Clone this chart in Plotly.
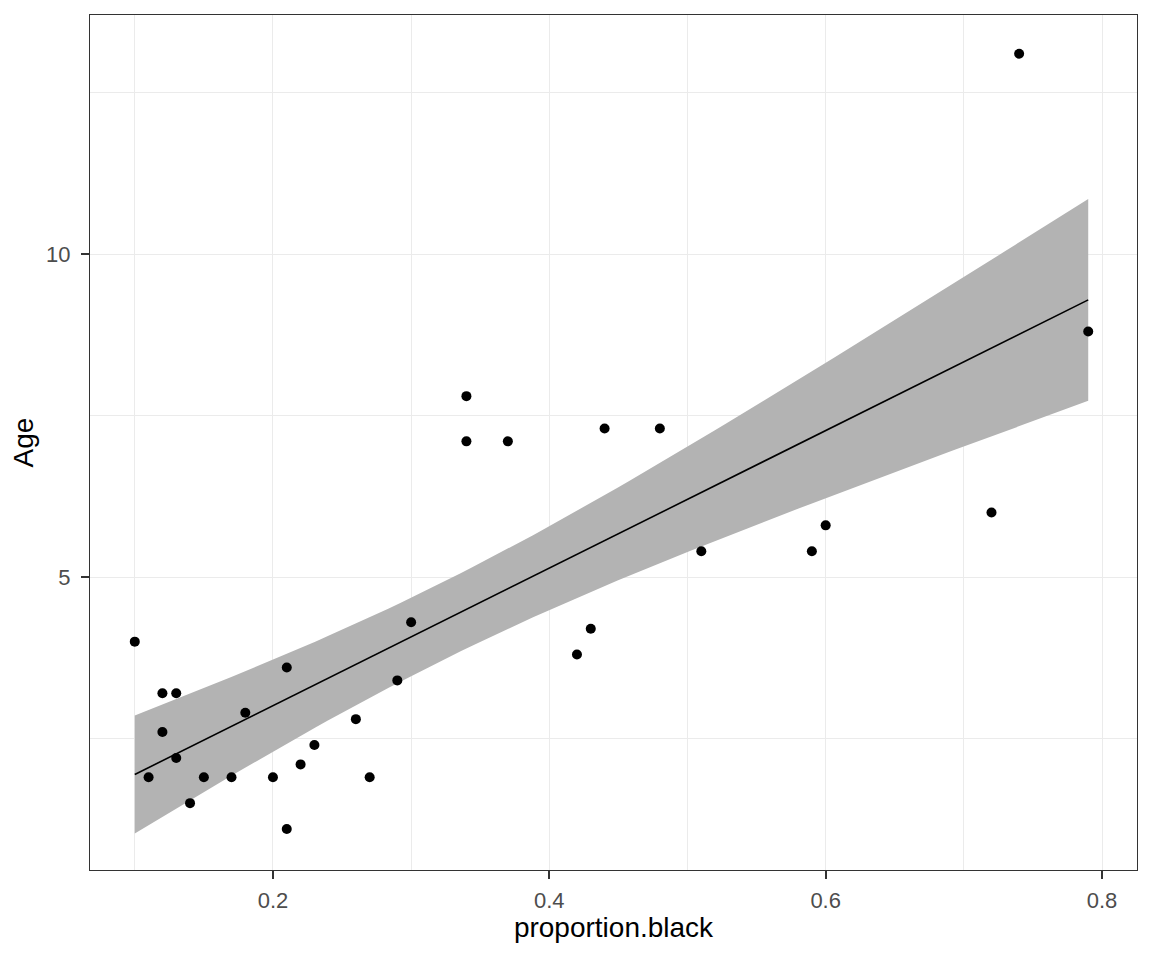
import numpy as np
import plotly.graph_objects as go

# values
proportion_black = [0.10, 0.11, 0.12, 0.12, 0.13, 0.13, 0.14, 0.15, 0.17, 0.18,
                    0.20, 0.21, 0.21, 0.22, 0.23, 0.26, 0.27, 0.29, 0.30, 0.34,
                    0.34, 0.37, 0.42, 0.43, 0.44, 0.48, 0.51, 0.59, 0.60, 0.72,
                    0.74, 0.79]
age = [4.0, 1.9, 3.2, 2.6, 3.2, 2.2, 1.5, 1.9, 1.9, 2.9,
       1.9, 3.6, 1.1, 2.1, 2.4, 2.8, 1.9, 3.4, 4.3, 7.8,
       7.1, 7.1, 3.8, 4.2, 7.3, 7.3, 5.4, 5.4, 5.8, 6.0,
       13.1, 8.8]
x_ticks = [0.2, 0.4, 0.6, 0.8]
y_ticks = [5, 10]

# linear fit + 95% confidence band, like geom_smooth(method="lm")
x = np.array(proportion_black)
y = np.array(age)
n = len(x)
slope, intercept = np.polyfit(x, y, 1)
resid = y - (intercept + slope * x)
s = np.sqrt(np.sum(resid ** 2) / (n - 2))
t_crit = 2.0423  # t(0.975, df=30)
xs = np.linspace(x.min(), x.max(), 80)
fit = intercept + slope * xs
se = s * np.sqrt(1 / n + (xs - x.mean()) ** 2 / np.sum((x - x.mean()) ** 2))
lower = fit - t_crit * se
upper = fit + t_crit * se

fig = go.Figure()
fig.add_trace(go.Scatter(x=xs, y=lower, mode="lines", line=dict(width=0),
                         hoverinfo="skip", showlegend=False))
fig.add_trace(go.Scatter(x=xs, y=upper, mode="lines", line=dict(width=0),
                         fill="tonexty", fillcolor="#B3B3B3",
                         hoverinfo="skip", showlegend=False))
fig.add_trace(go.Scatter(x=x, y=y, mode="markers",
                         marker=dict(color="black", size=10), showlegend=False))
fig.add_trace(go.Scatter(x=xs, y=fit, mode="lines",
                         line=dict(color="black", width=1.6), showlegend=False))

font = "Liberation Sans, Arial"
axis_style = dict(showline=True, mirror=True, linecolor="#333333", linewidth=1.2,
                  ticks="outside", ticklen=8, tickwidth=1.5, tickcolor="#333333",
                  gridcolor="#EBEBEB", gridwidth=1.2, zeroline=False,
                  tickfont=dict(family=font, size=22, color="#4D4D4D"),
                  minor=dict(showgrid=True, gridcolor="#EBEBEB", gridwidth=0.7, ticks=""))

fig.update_xaxes(range=[0.0676, 0.8253], tickvals=x_ticks,
                 ticktext=[f"{v:.1f}" for v in x_ticks], ticklabelstandoff=2,
                 title=dict(text="proportion.black", standoff=4,
                            font=dict(family=font, size=28, color="black")),
                 **axis_style)
fig.update_xaxes(minor_tickvals=[0.1, 0.3, 0.5, 0.7])
fig.update_yaxes(range=[0.465, 13.70], tickvals=y_ticks, ticklabelstandoff=6,
                 title=dict(text="Age", standoff=10,
                            font=dict(family=font, size=28, color="black")),
                 **axis_style)
fig.update_yaxes(minor_tickvals=[2.5, 7.5, 12.5])

# page body adds an 8px offset, so the figure is a bit smaller than the window
fig.update_layout(width=1144, height=952, plot_bgcolor="white", paper_bgcolor="white",
                  margin=dict(l=82, r=15, t=7, b=90))

fig.write_html("out.html")
